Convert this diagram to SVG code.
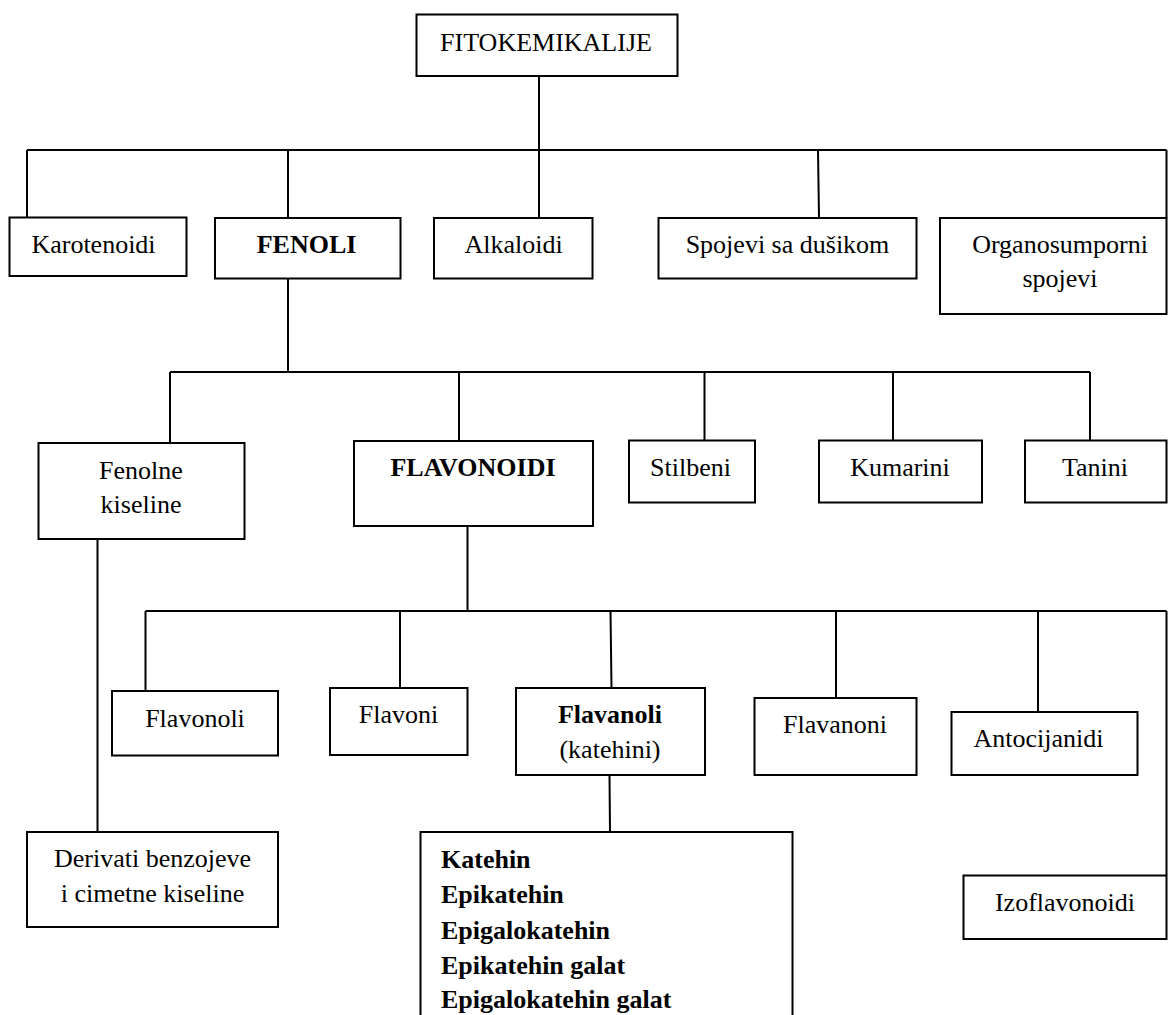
<svg xmlns="http://www.w3.org/2000/svg" width="1168" height="1015" viewBox="0 0 1168 1015">
<style>
.box{fill:#fff;stroke:#000;stroke-width:2}
.c{fill:none;stroke:#000;stroke-width:2}
text{font-family:"Liberation Serif","Times New Roman",serif;font-size:26px;fill:#000}
.m{text-anchor:middle}
.b{font-weight:bold}
</style>
<rect width="1168" height="1015" fill="#fff"/>
<g id="connectors">
<path class="c" d="M539,76 V150 M27,150 H1166.5 M27,150 V218 M288,150 V218 M539,150 V218 M818,150 L819,218 M1166.5,150 V218"/>
<path class="c" d="M288,279 V372 M170,372 H1090 M170,372 V443 M459,372 V441 M704.5,372 V440 M893,372 V440 M1090,372 V440"/>
<path class="c" d="M467.5,526 V611 M145.5,611 H1166.5 M145.5,611 V691 M400,611 V688 M610.5,611 L611.5,688 M836,611 V698 M1038,611 V712 M1166.5,611 V875"/>
<path class="c" d="M97.5,539 V832 M609.5,775 L610,832"/>
</g>
<g id="fitokemikalije"><rect class="box" x="416.5" y="14.5" width="261" height="61.5"/><text class="m" x="546" y="51">FITOKEMIKALIJE</text></g>
<g id="karotenoidi"><rect class="box" x="9.5" y="217.5" width="177" height="58.5"/><text class="m" x="93.5" y="253">Karotenoidi</text></g>
<g id="fenoli"><rect class="box" x="215" y="218" width="185.5" height="60.5"/><text class="m b" x="306.5" y="253">FENOLI</text></g>
<g id="alkaloidi"><rect class="box" x="434" y="218" width="158.5" height="60.5"/><text class="m" x="513.5" y="253">Alkaloidi</text></g>
<g id="spojevi-dusik"><rect class="box" x="658.5" y="218" width="258" height="60.5"/><text class="m" x="787.5" y="253">Spojevi sa dušikom</text></g>
<g id="organosumporni"><rect class="box" x="940" y="218" width="226.5" height="96"/><text class="m" x="1060" y="253">Organosumporni</text><text class="m" x="1060" y="287">spojevi</text></g>
<g id="fenolne-kiseline"><rect class="box" x="38.5" y="443" width="206" height="96"/><text class="m" x="141" y="479">Fenolne</text><text class="m" x="141" y="513">kiseline</text></g>
<g id="flavonoidi"><rect class="box" x="354" y="441" width="239" height="85"/><text class="m b" x="473" y="476">FLAVONOIDI</text></g>
<g id="stilbeni"><rect class="box" x="629" y="440.5" width="126" height="62"/><text class="m" x="690.5" y="475.5">Stilbeni</text></g>
<g id="kumarini"><rect class="box" x="819" y="440.5" width="163" height="62"/><text class="m" x="900" y="475.5">Kumarini</text></g>
<g id="tanini"><rect class="box" x="1025" y="440.5" width="141.5" height="62"/><text class="m" x="1095" y="475.5">Tanini</text></g>
<g id="flavonoli"><rect class="box" x="112" y="691" width="166" height="64.5"/><text class="m" x="195" y="726.5">Flavonoli</text></g>
<g id="flavoni"><rect class="box" x="330" y="688" width="137.5" height="67"/><text class="m" x="398.5" y="722.5">Flavoni</text></g>
<g id="flavanoli"><rect class="box" x="516" y="688" width="189" height="87"/><text class="m b" x="610" y="723">Flavanoli</text><text class="m" x="610" y="758">(katehini)</text></g>
<g id="flavanoni"><rect class="box" x="754.5" y="698" width="162" height="77"/><text class="m" x="835" y="732.5">Flavanoni</text></g>
<g id="antocijanidi"><rect class="box" x="951.5" y="712" width="186" height="63"/><text class="m" x="1038.5" y="746.5">Antocijanidi</text></g>
<g id="izoflavonoidi"><rect class="box" x="963.5" y="875.5" width="203" height="63.5"/><text class="m" x="1065" y="910.5">Izoflavonoidi</text></g>
<g id="derivati"><rect class="box" x="27" y="832" width="251" height="95"/><text class="m" x="152.5" y="866.5">Derivati benzojeve</text><text class="m" x="152.5" y="901.5">i cimetne kiseline</text></g>
<g id="katehini-lista"><rect class="box" x="420.5" y="832" width="372" height="200"/>
<text class="b" x="441" y="868">Katehin</text>
<text class="b" x="441" y="903">Epikatehin</text>
<text class="b" x="441" y="938.5">Epigalokatehin</text>
<text class="b" x="441" y="973.5">Epikatehin galat</text>
<text class="b" x="441" y="1008">Epigalokatehin galat</text>
</g>
</svg>
